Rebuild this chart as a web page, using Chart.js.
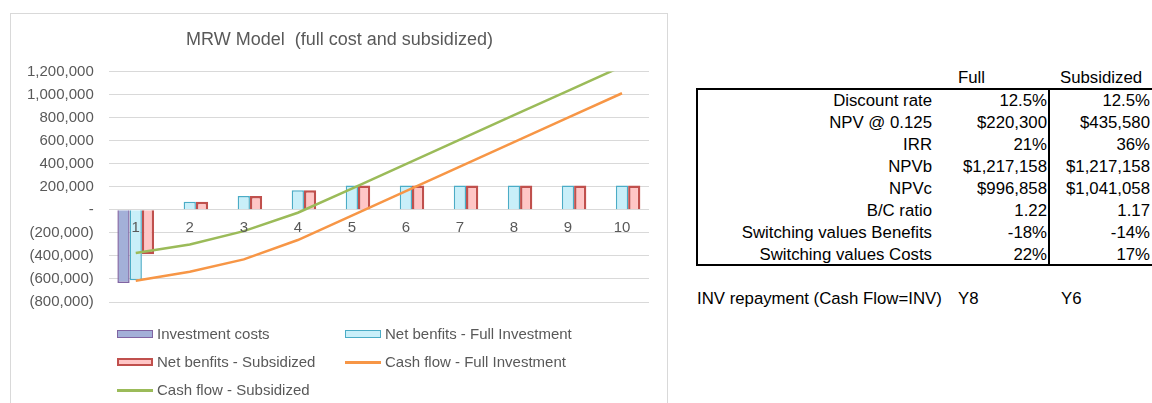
<!DOCTYPE html>
<html>
<head>
<meta charset="utf-8">
<script src="https://cdn.jsdelivr.net/npm/chart.js@4.4.1/dist/chart.umd.min.js"></script>
<style>
  body { margin: 0; width: 1152px; height: 403px; overflow: hidden; background: #fff; position: relative;
         font-family: 'Liberation Sans', Arial, sans-serif; }
  #frame { position: absolute; left: 10px; top: 13px; width: 656px; height: 400px;
           border: 1.5px solid #d9d9d9; border-bottom: none; }
  #chartbox { position: absolute; left: 11px; top: 14px; width: 656px; height: 312px; }
  .leg { position: absolute; height: 20px; line-height: 20px; font-size: 15px; color: #595959; white-space: nowrap; }
  .leg .sw { position: absolute; left: 0; width: 36px; box-sizing: border-box; }
  .leg span.txt { position: absolute; left: 40px; top: 0; }
  .cell { position: absolute; font-size: 16.8px; color: #000; white-space: nowrap; height: 22px; line-height: 22px; }
  #tbl { position: absolute; left: 696px; top: 88px; width: 470px; height: 174px;
         border-left: 2.5px solid #000; border-top: 2.5px solid #000; border-bottom: 2.5px solid #000; }
  #divider { position: absolute; left: 1048px; top: 89px; width: 2px; height: 176px; background: #000; }
</style>
</head>
<body>
<div id="frame"></div>
<div id="chartbox"><canvas id="mrw"></canvas></div>
<div id="legend"></div>
<div id="tbl"></div>
<div id="divider"></div>
<div id="cells"></div>
<script>
// chart data
const categories = ['1', '2', '3', '4', '5', '6', '7', '8', '9', '10'];
const investmentCosts = [-635000, null, null, null, null, null, null, null, null, null];
const netFull = [-612000, 70000, 120000, 170000, 212000, 212000, 212000, 212000, 212000, 212000];
const netSubsidized = [-385000, 70000, 120000, 170000, 212000, 212000, 212000, 212000, 212000, 212000];
const cashFull = [-615000, -538000, -430000, -262000, -50000, 163000, 375000, 588000, 800000, 1012000];
const cashSubsidized = [-375000, -300000, -185000, -25000, 185000, 397000, 610000, 822000, 1033000, 1245000];
const yMin = -800000;
const yMax = 1200000;
const yStep = 200000;

// table data
const headers = ['Full', 'Subsidized'];
const rowLabels = ['Discount rate', 'NPV @ 0.125', 'IRR', 'NPVb', 'NPVc', 'B/C ratio',
                   'Switching values Benefits', 'Switching values Costs'];
const fullValues = ['12.5%', '$220,300', '21%', '$1,217,158', '$996,858', '1.22', '-18%', '22%'];
const subValues = ['12.5%', '$435,580', '36%', '$1,217,158', '$1,041,058', '1.17', '-14%', '17%'];
const repayment = ['INV repayment (Cash Flow=INV)', 'Y8', 'Y6'];

Chart.defaults.font.family = "'Liberation Sans', Arial, sans-serif";
Chart.defaults.color = '#595959';

const fmt = v => {
    if (v === 0) return '-';
    const s = Math.abs(v).toLocaleString('en-US');
    return v < 0 ? '(' + s + ')' : s;
};

const datasets = [
    { type: 'bar', label: 'Investment costs', data: investmentCosts,
      backgroundColor: '#a3b0d8', borderColor: '#8064a2', borderWidth: 1.5, order: 2 },
    { type: 'bar', label: 'Net benfits - Full Investment', data: netFull,
      backgroundColor: '#c9eff9', borderColor: '#4bacc6', borderWidth: 1.5, order: 2 },
    { type: 'bar', label: 'Net benfits - Subsidized', data: netSubsidized,
      backgroundColor: '#ffc6c6', borderColor: '#c0504d', borderWidth: 2.5, order: 2 },
    { type: 'line', label: 'Cash flow - Full Investment', data: cashFull,
      borderColor: '#f79646', borderWidth: 2.5, pointRadius: 0, order: 1 },
    { type: 'line', label: 'Cash flow - Subsidized', data: cashSubsidized,
      borderColor: '#9bbb59', borderWidth: 2.5, pointRadius: 0, order: 1 }
];

new Chart(document.getElementById('mrw').getContext('2d'), {
    data: { labels: categories, datasets: datasets },
    options: {
        responsive: true,
        maintainAspectRatio: false,
        animation: false,
        layout: { padding: { left: 1, right: 0, top: 0, bottom: 11 } },
        datasets: { bar: { categoryPercentage: 0.68, barPercentage: 1.0 } },
        scales: {
            x: {
                position: { y: 0 },
                grid: { display: false },
                border: { display: false },
                ticks: { padding: 1, font: { size: 15 }, color: '#595959', z: 1 }
            },
            y: {
                min: yMin,
                max: yMax,
                grid: { color: '#d9d9d9', lineWidth: 1, drawTicks: false },
                border: { display: false },
                ticks: { stepSize: yStep, padding: 15, font: { size: 15 }, color: '#595959', callback: fmt }
            },
            // empty strip on the right so the title sits in the middle of the frame
            yRight: {
                type: 'linear',
                position: 'right',
                grid: { display: false },
                border: { display: false },
                ticks: { display: false },
                afterFit: s => { s.width = 18; }
            }
        },
        plugins: {
            legend: { display: false },
            tooltip: { enabled: false },
            title: {
                display: true,
                text: 'MRW Model  (full cost and subsidized)',
                color: '#595959',
                font: { size: 18, weight: 'normal' },
                padding: { top: 15, bottom: 21 }
            }
        }
    }
});

// legend in two columns like the original
const legendPos = [[117, 324], [345, 324], [117, 352], [345, 352], [117, 380]];
const legend = document.getElementById('legend');
datasets.forEach((ds, i) => {
    const item = document.createElement('div');
    item.className = 'leg';
    item.style.left = legendPos[i][0] + 'px';
    item.style.top = legendPos[i][1] + 'px';
    const sw = document.createElement('div');
    sw.className = 'sw';
    if (ds.type === 'bar') {
        sw.style.top = '6px';
        sw.style.height = '8px';
        sw.style.background = ds.backgroundColor;
        sw.style.border = (ds.borderWidth > 2 ? 2.5 : 1.5) + 'px solid ' + ds.borderColor;
    } else {
        sw.style.top = '9px';
        sw.style.height = '3px';
        sw.style.background = ds.borderColor;
    }
    const txt = document.createElement('span');
    txt.className = 'txt';
    txt.textContent = ds.label;
    item.appendChild(sw);
    item.appendChild(txt);
    legend.appendChild(item);
});

// table text
const cells = document.getElementById('cells');
function addCell(text, x, y, align) {
    const c = document.createElement('div');
    c.className = 'cell';
    c.textContent = text;
    if (align === 'right') c.style.right = (1152 - x) + 'px';
    else c.style.left = x + 'px';
    c.style.top = (y - 11) + 'px';
    cells.appendChild(c);
}
addCell(headers[0], 958, 78, 'left');
addCell(headers[1], 1060, 78, 'left');
rowLabels.forEach((lab, i) => {
    const y = 101 + i * 22;
    addCell(lab, 932, y, 'right');
    addCell(fullValues[i], 1047, y, 'right');
    addCell(subValues[i], 1150, y, 'right');
});
addCell(repayment[0], 697, 299, 'left');
addCell(repayment[1], 958, 299, 'left');
addCell(repayment[2], 1061, 299, 'left');
</script>
</body>
</html>
